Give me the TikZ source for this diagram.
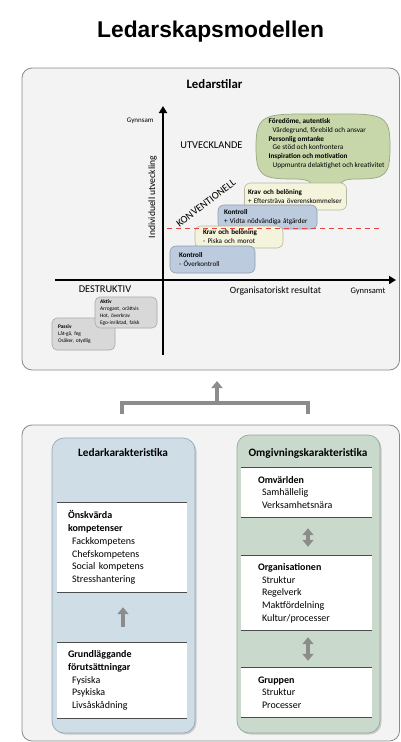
\documentclass[tikz,border=0pt]{standalone}
\usepackage{fontspec}
\setmainfont{Carlito}
\newfontfamily\titlefont{Liberation Sans}
\usetikzlibrary{arrows.meta,shadows,calc}
\definecolor{panelfill}{HTML}{F3F3F3}
\definecolor{paneldraw}{HTML}{8A8A8A}
\definecolor{cloudfill}{HTML}{C7D7A9}
\definecolor{clouddraw}{HTML}{98A682}
\definecolor{creamfill}{HTML}{F4F3DC}
\definecolor{creamdraw}{HTML}{B8B8A2}
\definecolor{bluefill}{HTML}{BCCBDD}
\definecolor{bluedraw}{HTML}{8E9DB0}
\definecolor{grayfill}{HTML}{D8D8D8}
\definecolor{graydraw}{HTML}{A8A8A8}
\definecolor{reddash}{HTML}{E3443D}
\definecolor{arrowgray}{HTML}{8C8C8C}
\definecolor{colblue}{HTML}{CFDDE6}
\definecolor{colbluedraw}{HTML}{95A9B7}
\definecolor{colgreen}{HTML}{C9D9CB}
\definecolor{colgreendraw}{HTML}{93AA97}
\begin{document}
\begin{tikzpicture}[x=1pt,y=-1pt,
  panel/.style={fill=panelfill,draw=paneldraw,line width=0.8pt,rounded corners=10pt},
  stylebox/.style={rounded corners=6pt,line width=0.6pt,align=left,inner ysep=1pt,
    font=\fontsize{7.1}{9}\selectfont},
  creambox/.style={stylebox,fill=creamfill,draw=creamdraw},
  bluebox/.style={stylebox,fill=bluefill,draw=bluedraw},
  graybox/.style={rounded corners=5pt,line width=0.6pt,align=left,inner ysep=1pt,
    fill=grayfill,draw=graydraw,font=\fontsize{5.4}{7}\selectfont},
  axis/.style={line width=1.8pt,-{Triangle[width=8pt,length=7pt]}},
  bigcap/.style={font=\fontsize{10.4}{12}\selectfont},
  axlabel/.style={font=\fontsize{9.6}{11}\selectfont},
  column/.style={rounded corners=12pt,line width=0.7pt,
    drop shadow={opacity=0.35,shadow xshift=1.5pt,shadow yshift=-1.5pt}},
  whitebox/.style={fill=white,align=left,inner ysep=0pt,
    font=\fontsize{10}{12.7}\selectfont},
  sepline/.style={draw=black!70,line width=0.8pt},
  blockarrow/.style={draw=arrowgray,line width=4pt},
  tipup/.style={blockarrow,-{Triangle[width=11pt,length=7pt]}},
  tipboth/.style={blockarrow,{Triangle[width=11pt,length=7pt]}-{Triangle[width=11pt,length=7pt]}},
  header/.style={font=\bfseries\fontsize{11.3}{13}\selectfont}
]
\useasboundingbox (0,0) rectangle (401,742);
\fill[white] (0,0) rectangle (401,742);

% title
\node[font=\titlefont\bfseries\fontsize{22.8}{26}\selectfont,anchor=base west,inner sep=0pt] (title) at (97,37) {Ledarskapsmodellen};

% ---------- top panel ----------
\draw[panel] (22,68) rectangle (399.5,370);
\node[font=\bfseries\fontsize{12.8}{14}\selectfont] (ledarstilar) at (214.5,84) {Ledarstilar};

% axes
\coordinate (vbot) at (163,355);
\coordinate (vtop) at (163,106);
\coordinate (hleft) at (55,280);
\coordinate (hright) at (396,280);
\draw[axis] (vbot) -- (vtop);
\draw[axis] (hleft) -- (hright);

\node[font=\fontsize{7}{8}\selectfont,anchor=east] (gynnsam) at (157,120.5) {Gynnsam};
\node[axlabel,rotate=90] (indiv) at (152.5,197) {Individuell utveckling};
\node[axlabel] (orgres) at (275.5,291) {Organisatoriskt resultat};
\node[font=\fontsize{8.5}{9}\selectfont] (gynnsamt) at (368,291) {Gynnsamt};
\node[bigcap] (utv) at (211.5,145) {UTVECKLANDE};
\node[bigcap] (destr) at (105,289) {DESTRUKTIV};
\node[bigcap,rotate=37] (konv) at (206,203) {KONVENTIONELL};

% cloud (speech balloon)
\path[fill=cloudfill,draw=clouddraw,line width=0.7pt]
  (256,147) .. controls (256,118) and (262,114) .. (300,114)
  -- (350,114) .. controls (387,114) and (390,120) .. (390,147)
  .. controls (390,175) and (386,179) .. (358,179)
  .. controls (346,179) and (341,180) .. (339,187)
  -- (313,187) .. controls (311,180) and (305,179) .. (292,179)
  .. controls (261,179) and (256,175) .. (256,147) -- cycle;
\node[anchor=west,align=left,inner sep=0pt,font=\fontsize{7.2}{8.8}\selectfont] (cloud) at (268.5,143.5)
 {\textbf{Föredöme, autentisk}\\
  \hspace*{4pt}Värdegrund, förebild och ansvar\\
  \textbf{Personlig omtanke}\\
  \hspace*{4pt}Ge stöd och konfrontera\\
  \textbf{Inspiration och motivation}\\
  \hspace*{4pt}Uppmuntra delaktighet och kreativitet};

% step boxes
\node[creambox,text width=95pt,inner xsep=3.5pt,minimum height=27pt] (kb2) at (295.5,196.5)
  {\textbf{Krav och belöning}\\+ Eftersträva överenskommelser};
\node[bluebox,text width=87pt,inner xsep=6pt,minimum height=24pt] (k2) at (267.5,217)
  {\textbf{Kontroll}\\+ Vidta nödvändiga åtgärder};
\node[creambox,text width=72pt,inner xsep=8pt,minimum height=22pt] (kb1) at (239,237)
  {\textbf{Krav och belöning}\\- Piska och morot};
\node[bluebox,text width=67pt,inner xsep=9pt,minimum height=27pt] (k1) at (212.5,259.5)
  {\textbf{Kontroll}\\- Överkontroll};

\coordinate (dashL) at (167,228);
\coordinate (dashR) at (381,228);
\draw[reddash,line width=1pt,dash pattern=on 5pt off 4pt] (dashL) -- (dashR);

% destructive boxes
\node[graybox,text width=51pt,inner xsep=6pt,minimum height=32pt] (passiv) at (83.5,334)
  {\textbf{Passiv}\\Låt-gå, feg\\Osäker, otydlig};
\node[graybox,text width=52pt,inner xsep=5pt,minimum height=31pt] (aktiv) at (126,312.5)
  {\textbf{Aktiv}\\Arrogant, orättvis\\Hot, överkrav\\Ego-inriktad, falsk};

% ---------- bracket arrow ----------
\coordinate (bl) at (122,414);
\coordinate (br) at (308,414);
\coordinate (bm) at (217,403);
\coordinate (btip) at (217,381);
\draw[blockarrow,line join=miter] (bl) |- (bm) -| (br);
\draw[tipup] (bm) -- (btip);

% ---------- bottom panel ----------
\draw[panel] (22,425) rectangle (399.5,741);

\path[column,fill=colblue,draw=colbluedraw] (52,438) rectangle (195,733);
\path[column,fill=colgreen,draw=colgreendraw] (237,435) rectangle (380,733);

\node[header] (ledkar) at (123,453) {Ledarkarakteristika};
\node[header] (omgkar) at (308,453) {Omgivningskarakteristika};

% left column
\node[whitebox,text width=108pt,inner xsep=11pt,minimum height=89pt] (onsk) at (122,547.5)
  {\textbf{Önskvärda}\\\textbf{kompetenser}\\\hspace*{4pt}Fackkompetens\\\hspace*{4pt}Chefskompetens\\\hspace*{4pt}Social kompetens\\\hspace*{4pt}Stresshantering};
\node[whitebox,text width=108pt,inner xsep=11pt,minimum height=75pt] (grund) at (122,680.5)
  {\textbf{Grundläggande}\\\textbf{förutsättningar}\\\hspace*{4pt}Fysiska\\\hspace*{4pt}Psykiska\\\hspace*{4pt}Livsåskådning};

% right column
\node[whitebox,text width=97pt,inner xsep=17pt,minimum height=49pt] (omv) at (306.5,492.5)
  {\textbf{Omvärlden}\\\hspace*{4pt}Samhällelig\\\hspace*{4pt}Verksamhetsnära};
\node[whitebox,text width=97pt,inner xsep=17pt,minimum height=74pt] (org) at (306.5,593)
  {\textbf{Organisationen}\\\hspace*{4pt}Struktur\\\hspace*{4pt}Regelverk\\\hspace*{4pt}Maktfördelning\\\hspace*{4pt}Kultur/processer};
\node[whitebox,text width=97pt,inner xsep=17pt,minimum height=49pt] (grupp) at (306.5,692.5)
  {\textbf{Gruppen}\\\hspace*{4pt}Struktur\\\hspace*{4pt}Processer};

\foreach \b in {onsk,grund,omv,org,grupp}{
  \draw[sepline] (\b.north west) -- (\b.north east);
  \draw[sepline] (\b.south west) -- (\b.south east);
}

% arrows in columns
\draw[tipup,shorten <=16pt,shorten >=15pt] ($(grund.north)+(1,0)$) -- ($(onsk.south)+(1,0)$);
\draw[tipboth,shorten <=11pt,shorten >=9pt] ($(omv.south)+(1.5,0)$) -- ($(org.north)+(1.5,0)$);
\draw[tipboth,shorten <=7pt,shorten >=7pt] ($(org.south)+(1.5,0)$) -- ($(grupp.north)+(1.5,0)$);
\end{tikzpicture}
\end{document}
